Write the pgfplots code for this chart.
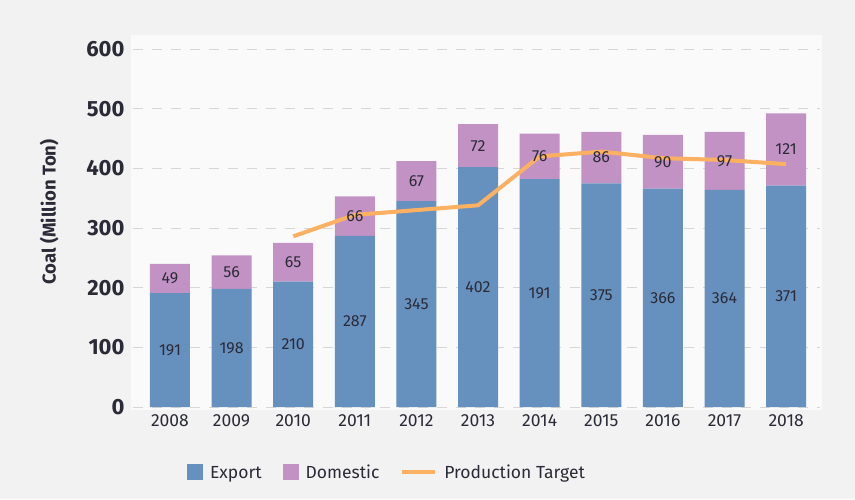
\documentclass[border=0pt]{standalone}
\usepackage{pgfplots}
\pgfplotsset{compat=1.18}
\usepackage{fontspec}
\setmainfont{Fira Sans}
\definecolor{bg}{HTML}{F2F2F2}
\definecolor{plotbg}{HTML}{FAFAFA}
\definecolor{exportc}{HTML}{6690BD}
\definecolor{domc}{HTML}{C292C4}
\definecolor{linec}{HTML}{FCB062}
\definecolor{gridc}{HTML}{D6D6D6}
\definecolor{txt}{HTML}{2B2B38}
\pgfplotsset{sqlegend/.style={legend image code/.code={\fill[##1] (0pt,-7pt) rectangle (16pt,9pt);}},
  linelegend/.style={legend image code/.code={\draw[##1] (0pt,1pt) -- (33pt,1pt);}},
  base/.style={at={(0,0)}, anchor=south west,
  scale only axis, width=687pt, height=358pt,
  xmin=-0.6, xmax=10.55, ymin=0, ymax=600}}
\pgfplotstableread{
x export exlab domestic
0 191 191 49
1 198 198 56
2 210 210 65
3 287 287 66
4 345 345 67
5 402 402 72
6 382 191 76
7 375 375 86
8 366 366 90
9 364 364 97
10 371 371 121
}\coal
\begin{document}
\begin{tikzpicture}
\fill[bg] (-133pt,-92pt) rectangle (722pt,407pt);
\fill[plotbg] (-2pt,-3pt) rectangle (689pt,372pt);
\begin{axis}[
  base,
  ybar stacked, bar width=40pt,
  axis line style={draw=none},
  major tick length=0pt,
  ytick={0,100,...,600},
  xtick={0,...,10},
  xticklabels={2008,2009,2010,2011,2012,2013,2014,2015,2016,2017,2018},
  /pgf/number format/assume math mode=true,
  yticklabel style={font=\bfseries\fontsize{22}{22}\selectfont, text=txt, xshift=-5pt},
  xticklabel style={font=\fontsize{17.5}{17.5}\selectfont, text=txt, yshift=-4pt},
  ymajorgrids, grid style={gridc, line width=1pt, dash pattern=on 10pt off 9pt},
  ylabel={Coal (Million Ton)},
  ylabel style={at={(axis description cs:-0.122,0.545)}, anchor=center, font=\bfseries\fontsize{18.5}{18.5}\selectfont, text=txt},
  legend style={at={(axis description cs:0.074,-0.184)}, anchor=west, draw=none, fill=none,
    legend columns=-1, font=\fontsize{17.5}{17.5}\selectfont, text=txt,
    /tikz/every odd column/.append style={column sep=5pt},
    /tikz/every even column/.append style={column sep=19pt}},
]
\addplot[fill=exportc, draw=none, sqlegend] table[x=x, y=export] {\coal};
\addlegendentry{Export}
\addplot[fill=domc, draw=none, sqlegend] table[x=x, y=domestic] {\coal};
\addlegendentry{Domestic}
\addlegendimage{linec, line width=4pt, linelegend}
\addlegendentry{Production Target}
\end{axis}
\begin{axis}[base, hide axis]
\addplot[linec, line width=4pt, line join=round, mark=none] coordinates {
 (2,286) (3,322) (4,330) (5,338) (6,420) (7,428) (8,417) (9,414) (10,407)};
\end{axis}
\begin{axis}[base, hide axis, ybar stacked, bar width=40pt,
  nodes near coords={\pgfplotspointmeta},
  nodes near coords style={font=\fontsize{16}{16}\selectfont, text=txt}]
\addplot[fill=none, draw=none, point meta=explicit symbolic] table[x=x, y=export, meta=exlab] {\coal};
\addplot[fill=none, draw=none, point meta=explicit symbolic] table[x=x, y=domestic, meta=domestic] {\coal};
\end{axis}
\end{tikzpicture}
\end{document}
